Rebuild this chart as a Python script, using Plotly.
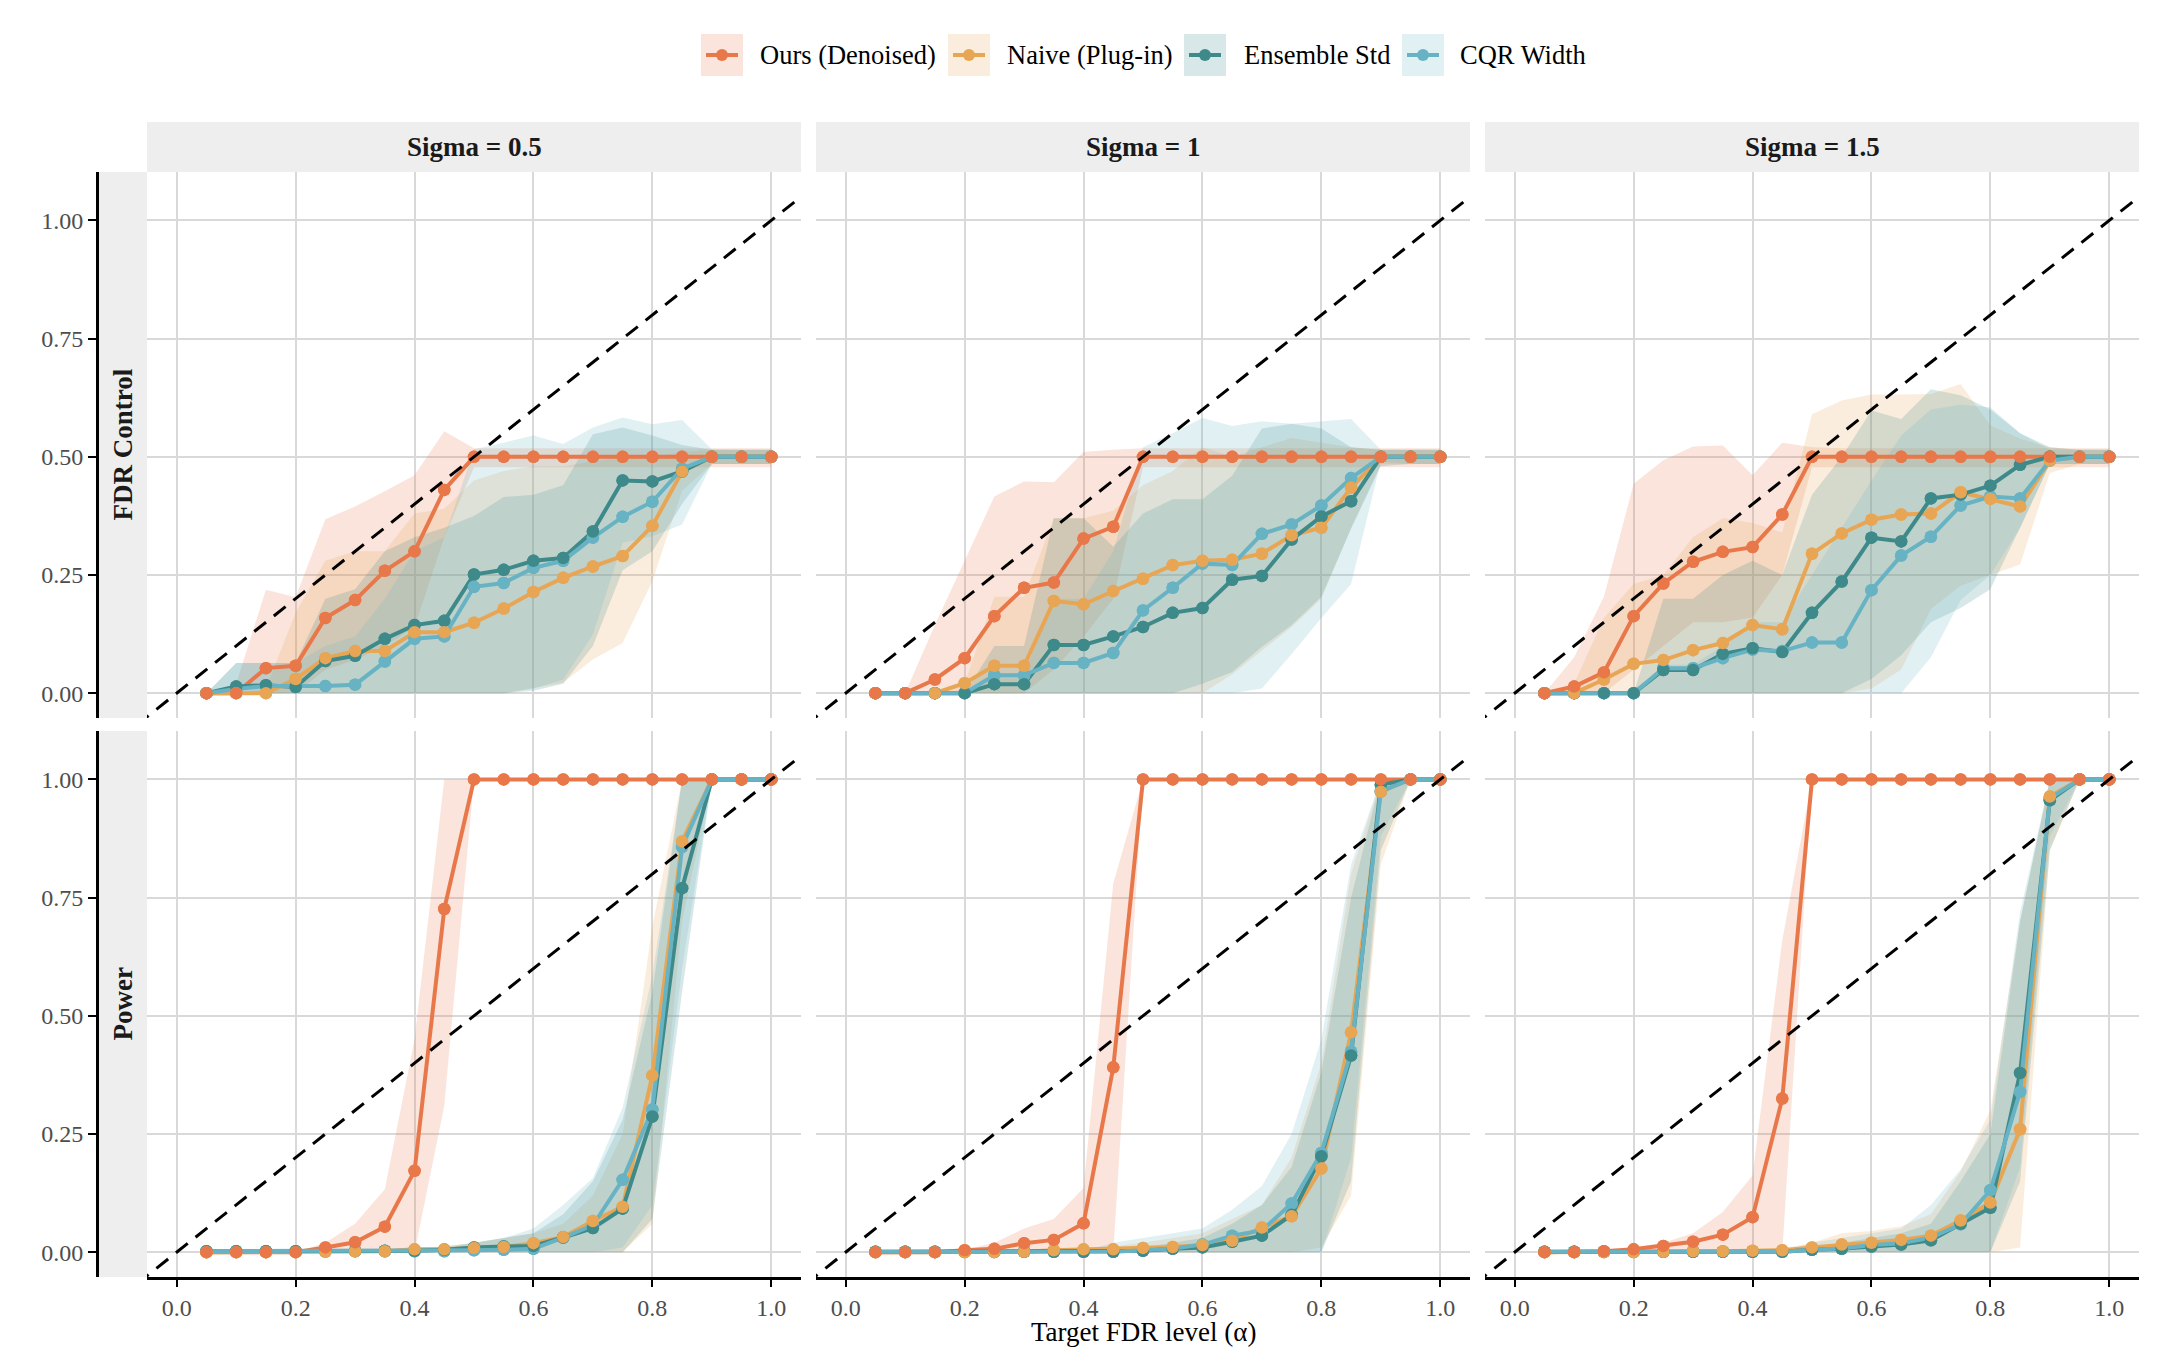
import plotly.graph_objects as go

# ---------------- data ----------------
ALPHA = [0.05, 0.10, 0.15, 0.20, 0.25, 0.30, 0.35, 0.40, 0.45, 0.50,
         0.55, 0.60, 0.65, 0.70, 0.75, 0.80, 0.85, 0.90, 0.95, 1.00]
METHODS = ["Ours (Denoised)", "Naive (Plug-in)", "Ensemble Std", "CQR Width"]
SIGMAS = ["Sigma = 0.5", "Sigma = 1", "Sigma = 1.5"]
METRICS = ["FDR Control", "Power"]
X_TICKS = [0.0, 0.2, 0.4, 0.6, 0.8, 1.0]
Y_TICKS = [0.0, 0.25, 0.5, 0.75, 1.0]

# --- FDR, sigma = 0.5 ---
FDR_S05_OURS = [0, 0, 0.053, 0.058, 0.159, 0.197, 0.259, 0.300, 0.430, 0.5, 0.5, 0.5, 0.5, 0.5, 0.5, 0.5, 0.5, 0.5, 0.5, 0.5]
FDR_S05_OURS_HI = [0, 0.02, 0.219, 0.203, 0.368, 0.395, 0.427, 0.461, 0.554, 0.518, 0.518, 0.518, 0.518, 0.518, 0.518, 0.518, 0.518, 0.518, 0.518, 0.518]
FDR_S05_OURS_LO = [0, 0, 0, 0, 0.05, 0.07, 0.10, 0.14, 0.33, 0.478, 0.478, 0.478, 0.478, 0.478, 0.478, 0.478, 0.478, 0.478, 0.478, 0.478]
FDR_S05_NAIVE = [0, 0, 0, 0.03, 0.074, 0.089, 0.089, 0.129, 0.129, 0.149, 0.179, 0.214, 0.244, 0.268, 0.290, 0.354, 0.469, 0.5, 0.5, 0.5]
FDR_S05_NAIVE_HI = [0, 0, 0.01, 0.17, 0.28, 0.30, 0.30, 0.38, 0.39, 0.45, 0.47, 0.48, 0.48, 0.49, 0.50, 0.50, 0.51, 0.515, 0.515, 0.515]
FDR_S05_NAIVE_LO = [0, 0, 0, 0, 0, 0, 0, 0, 0, 0, 0, 0.011, 0.022, 0.071, 0.106, 0.237, 0.428, 0.485, 0.485, 0.485]
FDR_S05_ENS = [0, 0.014, 0.017, 0.013, 0.068, 0.079, 0.115, 0.144, 0.153, 0.251, 0.261, 0.280, 0.286, 0.342, 0.450, 0.448, 0.469, 0.5, 0.5, 0.5]
FDR_S05_ENS_HI = [0, 0.064, 0.064, 0.064, 0.20, 0.22, 0.30, 0.33, 0.35, 0.375, 0.415, 0.42, 0.44, 0.548, 0.562, 0.545, 0.525, 0.515, 0.515, 0.515]
FDR_S05_ENS_LO = [0, 0, 0, 0, 0, 0, 0, 0, 0, 0, 0, 0.005, 0.02, 0.10, 0.26, 0.30, 0.40, 0.485, 0.485, 0.485]
FDR_S05_CQR = [0, 0.009, 0.015, 0.014, 0.015, 0.018, 0.067, 0.115, 0.12, 0.225, 0.233, 0.265, 0.28, 0.329, 0.373, 0.405, 0.475, 0.5, 0.5, 0.5]
FDR_S05_CQR_HI = [0, 0.064, 0.064, 0.064, 0.10, 0.12, 0.20, 0.30, 0.33, 0.516, 0.53, 0.545, 0.527, 0.562, 0.583, 0.569, 0.578, 0.516, 0.515, 0.515]
FDR_S05_CQR_LO = [0, 0, 0, 0, 0, 0, 0, 0, 0, 0, 0, 0.01, 0.029, 0.124, 0.318, 0.332, 0.357, 0.485, 0.485, 0.485]

# --- FDR, sigma = 1 ---
FDR_S10_OURS = [0, 0, 0.029, 0.074, 0.163, 0.223, 0.234, 0.327, 0.352, 0.5, 0.5, 0.5, 0.5, 0.5, 0.5, 0.5, 0.5, 0.5, 0.5, 0.5]
FDR_S10_OURS_HI = [0, 0, 0.144, 0.28, 0.416, 0.448, 0.446, 0.51, 0.515, 0.518, 0.518, 0.518, 0.518, 0.518, 0.518, 0.518, 0.518, 0.518, 0.518, 0.518]
FDR_S10_OURS_LO = [0, 0, 0, 0, 0, 0, 0.05, 0.12, 0.2, 0.478, 0.478, 0.478, 0.478, 0.478, 0.478, 0.478, 0.478, 0.478, 0.478, 0.478]
FDR_S10_NAIVE = [0, 0, 0, 0.021, 0.058, 0.058, 0.195, 0.188, 0.216, 0.242, 0.271, 0.280, 0.282, 0.295, 0.334, 0.350, 0.435, 0.5, 0.5, 0.5]
FDR_S10_NAIVE_HI = [0, 0, 0, 0.02, 0.204, 0.204, 0.37, 0.37, 0.386, 0.44, 0.47, 0.52, 0.50, 0.52, 0.54, 0.53, 0.52, 0.515, 0.515, 0.515]
FDR_S10_NAIVE_LO = [0, 0, 0, 0, 0, 0, 0, 0, 0, 0, 0, 0, 0.04, 0.09, 0.14, 0.2, 0.35, 0.485, 0.485, 0.485]
FDR_S10_ENS = [0, 0, 0, 0, 0.019, 0.019, 0.102, 0.102, 0.120, 0.140, 0.170, 0.180, 0.240, 0.248, 0.325, 0.374, 0.406, 0.5, 0.5, 0.5]
FDR_S10_ENS_HI = [0, 0, 0, 0, 0.10, 0.10, 0.37, 0.37, 0.31, 0.38, 0.41, 0.41, 0.46, 0.56, 0.57, 0.56, 0.52, 0.515, 0.515, 0.515]
FDR_S10_ENS_LO = [0, 0, 0, 0, 0, 0, 0, 0, 0, 0, 0, 0.02, 0.045, 0.098, 0.144, 0.204, 0.348, 0.48, 0.485, 0.485]
FDR_S10_CQR = [0, 0, 0, 0, 0.038, 0.038, 0.064, 0.064, 0.085, 0.175, 0.223, 0.274, 0.271, 0.337, 0.357, 0.397, 0.455, 0.5, 0.5, 0.5]
FDR_S10_CQR_HI = [0, 0, 0, 0, 0.04, 0.04, 0.2, 0.2, 0.3, 0.52, 0.55, 0.582, 0.565, 0.575, 0.57, 0.575, 0.58, 0.515, 0.515, 0.515]
FDR_S10_CQR_LO = [0, 0, 0, 0, 0, 0, 0, 0, 0, 0, 0, 0, 0, 0.01, 0.083, 0.159, 0.231, 0.49, 0.485, 0.485]

# --- FDR, sigma = 1.5 ---
FDR_S15_OURS = [0, 0.014, 0.044, 0.163, 0.232, 0.278, 0.299, 0.309, 0.378, 0.5, 0.5, 0.5, 0.5, 0.5, 0.5, 0.5, 0.5, 0.5, 0.5, 0.5]
FDR_S15_OURS_HI = [0, 0.076, 0.204, 0.443, 0.493, 0.522, 0.524, 0.461, 0.530, 0.52, 0.518, 0.518, 0.518, 0.518, 0.518, 0.518, 0.518, 0.518, 0.518, 0.518]
FDR_S15_OURS_LO = [0, 0, 0, 0.05, 0.1, 0.15, 0.15, 0.16, 0.25, 0.478, 0.478, 0.478, 0.478, 0.478, 0.478, 0.478, 0.478, 0.478, 0.478, 0.478]
FDR_S15_NAIVE = [0, 0, 0.029, 0.062, 0.070, 0.091, 0.106, 0.144, 0.135, 0.295, 0.338, 0.367, 0.378, 0.380, 0.425, 0.411, 0.395, 0.492, 0.5, 0.5]
FDR_S15_NAIVE_HI = [0, 0.02, 0.159, 0.231, 0.25, 0.33, 0.37, 0.36, 0.34, 0.59, 0.619, 0.632, 0.632, 0.633, 0.654, 0.567, 0.538, 0.52, 0.515, 0.515]
FDR_S15_NAIVE_LO = [0, 0, 0, 0, 0, 0, 0, 0, 0, 0, 0, 0.01, 0.05, 0.178, 0.227, 0.25, 0.272, 0.466, 0.485, 0.485]
FDR_S15_ENS = [0, 0, 0, 0, 0.049, 0.049, 0.083, 0.095, 0.087, 0.170, 0.236, 0.329, 0.321, 0.412, 0.42, 0.439, 0.483, 0.5, 0.5, 0.5]
FDR_S15_ENS_HI = [0, 0, 0, 0, 0.2, 0.2, 0.25, 0.28, 0.25, 0.42, 0.5, 0.598, 0.58, 0.643, 0.63, 0.60, 0.55, 0.52, 0.515, 0.515]
FDR_S15_ENS_LO = [0, 0, 0, 0, 0, 0, 0, 0, 0, 0, 0, 0.03, 0.08, 0.15, 0.18, 0.22, 0.35, 0.485, 0.485, 0.485]
FDR_S15_CQR = [0, 0, 0, 0, 0.053, 0.053, 0.074, 0.092, 0.089, 0.107, 0.107, 0.218, 0.291, 0.331, 0.397, 0.416, 0.412, 0.492, 0.5, 0.5]
FDR_S15_CQR_HI = [0, 0, 0, 0, 0.06, 0.06, 0.1, 0.15, 0.15, 0.25, 0.35, 0.45, 0.545, 0.60, 0.61, 0.605, 0.55, 0.515, 0.515, 0.515]
FDR_S15_CQR_LO = [0, 0, 0, 0, 0, 0, 0, 0, 0, 0, 0, 0, 0, 0.076, 0.197, 0.25, 0.35, 0.485, 0.485, 0.485]

# --- Power, sigma = 0.5 ---
POW_S05_OURS = [0, 0, 0, 0, 0.010, 0.021, 0.054, 0.172, 0.726, 1, 1, 1, 1, 1, 1, 1, 1, 1, 1, 1]
POW_S05_OURS_HI = [0, 0, 0, 0, 0.02, 0.06, 0.133, 0.45, 1, 1, 1, 1, 1, 1, 1, 1, 1, 1, 1, 1]
POW_S05_OURS_LO = [0, 0, 0, 0, 0, 0, 0, 0, 0.31, 1, 1, 1, 1, 1, 1, 1, 1, 1, 1, 1]
POW_S05_NAIVE = [0, 0, 0, 0, 0.001, 0.002, 0.002, 0.006, 0.006, 0.009, 0.011, 0.019, 0.032, 0.066, 0.096, 0.374, 0.869, 1, 1, 1]
POW_S05_NAIVE_HI = [0, 0, 0, 0, 0.002, 0.004, 0.005, 0.01, 0.012, 0.02, 0.03, 0.04, 0.06, 0.12, 0.25, 0.69, 1, 1, 1, 1]
POW_S05_NAIVE_LO = [0, 0, 0, 0, 0, 0, 0, 0, 0, 0, 0, 0, 0, 0, 0, 0.06, 0.7, 1, 1, 1]
POW_S05_ENS = [0.002, 0.002, 0.002, 0.002, 0.003, 0.003, 0.003, 0.003, 0.005, 0.010, 0.012, 0.013, 0.031, 0.051, 0.092, 0.287, 0.770, 1, 1, 1]
POW_S05_ENS_HI = [0.003, 0.003, 0.003, 0.003, 0.005, 0.005, 0.006, 0.008, 0.012, 0.02, 0.03, 0.04, 0.08, 0.15, 0.28, 0.55, 1, 1, 1, 1]
POW_S05_ENS_LO = [0, 0, 0, 0, 0, 0, 0, 0, 0, 0, 0, 0, 0, 0, 0, 0.07, 0.55, 1, 1, 1]
POW_S05_CQR = [0.002, 0.002, 0.002, 0.002, 0.002, 0.002, 0.002, 0.002, 0.002, 0.004, 0.005, 0.007, 0.031, 0.057, 0.153, 0.302, 0.857, 1, 1, 1]
POW_S05_CQR_HI = [0.003, 0.003, 0.003, 0.003, 0.003, 0.004, 0.005, 0.006, 0.008, 0.02, 0.03, 0.05, 0.1, 0.157, 0.306, 0.586, 1, 1, 1, 1]
POW_S05_CQR_LO = [0, 0, 0, 0, 0, 0, 0, 0, 0, 0, 0, 0, 0, 0, 0.01, 0.1, 0.6, 1, 1, 1]

# --- Power, sigma = 1 ---
POW_S10_OURS = [0, 0, 0, 0.004, 0.007, 0.019, 0.026, 0.061, 0.391, 1, 1, 1, 1, 1, 1, 1, 1, 1, 1, 1]
POW_S10_OURS_HI = [0, 0, 0, 0.005, 0.02, 0.05, 0.07, 0.136, 0.78, 1, 1, 1, 1, 1, 1, 1, 1, 1, 1, 1]
POW_S10_OURS_LO = [0, 0, 0, 0, 0, 0, 0, 0, 0, 1, 1, 1, 1, 1, 1, 1, 1, 1, 1, 1]
POW_S10_NAIVE = [0, 0, 0, 0, 0, 0.001, 0.004, 0.006, 0.006, 0.009, 0.011, 0.015, 0.024, 0.052, 0.076, 0.177, 0.465, 0.974, 1, 1]
POW_S10_NAIVE_HI = [0, 0, 0, 0, 0.001, 0.003, 0.007, 0.01, 0.012, 0.02, 0.03, 0.04, 0.07, 0.1, 0.2, 0.4, 0.8, 1, 1, 1]
POW_S10_NAIVE_LO = [0, 0, 0, 0, 0, 0, 0, 0, 0, 0, 0, 0, 0, 0, 0, 0.01, 0.12, 0.82, 1, 1]
POW_S10_ENS = [0.001, 0.001, 0.001, 0.001, 0.001, 0.001, 0.001, 0.001, 0.001, 0.003, 0.007, 0.010, 0.022, 0.035, 0.079, 0.203, 0.416, 0.989, 1, 1]
POW_S10_ENS_HI = [0.002, 0.002, 0.002, 0.002, 0.002, 0.002, 0.002, 0.002, 0.002, 0.01, 0.02, 0.03, 0.06, 0.1, 0.18, 0.38, 0.75, 1, 1, 1]
POW_S10_ENS_LO = [0, 0, 0, 0, 0, 0, 0, 0, 0, 0, 0, 0, 0, 0, 0, 0, 0.15, 0.85, 1, 1]
POW_S10_CQR = [0.001, 0.001, 0.001, 0.001, 0.001, 0.001, 0.001, 0.001, 0.001, 0.004, 0.008, 0.016, 0.035, 0.046, 0.103, 0.21, 0.424, 0.975, 1, 1]
POW_S10_CQR_HI = [0.002, 0.002, 0.002, 0.002, 0.002, 0.002, 0.002, 0.002, 0.02, 0.03, 0.04, 0.05, 0.09, 0.14, 0.25, 0.45, 0.82, 1, 1, 1]
POW_S10_CQR_LO = [0, 0, 0, 0, 0, 0, 0, 0, 0, 0, 0, 0, 0, 0, 0, 0, 0.2, 0.88, 1, 1]

# --- Power, sigma = 1.5 ---
POW_S15_OURS = [0, 0, 0.002, 0.006, 0.013, 0.022, 0.037, 0.074, 0.325, 1, 1, 1, 1, 1, 1, 1, 1, 1, 1, 1]
POW_S15_OURS_HI = [0, 0, 0.003, 0.01, 0.02, 0.04, 0.085, 0.162, 0.66, 1, 1, 1, 1, 1, 1, 1, 1, 1, 1, 1]
POW_S15_OURS_LO = [0, 0, 0, 0, 0, 0, 0, 0, 0, 1, 1, 1, 1, 1, 1, 1, 1, 1, 1, 1]
POW_S15_NAIVE = [0, 0, 0, 0, 0.001, 0.002, 0.002, 0.003, 0.004, 0.010, 0.016, 0.020, 0.026, 0.035, 0.067, 0.105, 0.26, 0.964, 1, 1]
POW_S15_NAIVE_HI = [0, 0, 0, 0, 0.002, 0.004, 0.005, 0.006, 0.008, 0.02, 0.04, 0.045, 0.055, 0.08, 0.17, 0.3, 0.7, 1, 1, 1]
POW_S15_NAIVE_LO = [0, 0, 0, 0, 0, 0, 0, 0, 0, 0, 0, 0, 0, 0, 0, 0, 0.01, 0.85, 1, 1]
POW_S15_ENS = [0.001, 0.001, 0.001, 0.001, 0.001, 0.001, 0.001, 0.001, 0.001, 0.005, 0.007, 0.012, 0.016, 0.025, 0.06, 0.094, 0.379, 0.956, 1, 1]
POW_S15_ENS_HI = [0.002, 0.002, 0.002, 0.002, 0.002, 0.002, 0.002, 0.002, 0.002, 0.01, 0.02, 0.03, 0.04, 0.06, 0.15, 0.25, 0.7, 1, 1, 1]
POW_S15_ENS_LO = [0, 0, 0, 0, 0, 0, 0, 0, 0, 0, 0, 0, 0, 0, 0, 0, 0.15, 0.85, 1, 1]
POW_S15_CQR = [0.001, 0.001, 0.001, 0.001, 0.001, 0.001, 0.001, 0.001, 0.001, 0.005, 0.008, 0.015, 0.019, 0.031, 0.059, 0.131, 0.339, 0.96, 1, 1]
POW_S15_CQR_HI = [0.002, 0.002, 0.002, 0.002, 0.002, 0.002, 0.002, 0.002, 0.002, 0.02, 0.03, 0.04, 0.05, 0.1, 0.175, 0.28, 0.72, 1, 1, 1]
POW_S15_CQR_LO = [0, 0, 0, 0, 0, 0, 0, 0, 0, 0, 0, 0, 0, 0, 0, 0, 0.18, 0.88, 1, 1]

# identity reference line (y = x)
REF_LINE = [-0.1, 1.2]

# ---------------- styling ----------------
W, H = 2176, 1366
FONT = "Liberation Serif"
LINE_COLORS = ["#E8784A", "#E8A654", "#3E8A8B", "#67B3C3"]
FILL_COLORS = ["rgba(232,120,74,0.2)", "rgba(232,166,84,0.2)",
               "rgba(62,138,139,0.2)", "rgba(103,179,195,0.2)"]
LINE_W = 4
MARK_SIZE = 12.5

PANELS = [
    [  # row 1: FDR
        [(FDR_S05_OURS, FDR_S05_OURS_LO, FDR_S05_OURS_HI), (FDR_S05_NAIVE, FDR_S05_NAIVE_LO, FDR_S05_NAIVE_HI),
         (FDR_S05_ENS, FDR_S05_ENS_LO, FDR_S05_ENS_HI), (FDR_S05_CQR, FDR_S05_CQR_LO, FDR_S05_CQR_HI)],
        [(FDR_S10_OURS, FDR_S10_OURS_LO, FDR_S10_OURS_HI), (FDR_S10_NAIVE, FDR_S10_NAIVE_LO, FDR_S10_NAIVE_HI),
         (FDR_S10_ENS, FDR_S10_ENS_LO, FDR_S10_ENS_HI), (FDR_S10_CQR, FDR_S10_CQR_LO, FDR_S10_CQR_HI)],
        [(FDR_S15_OURS, FDR_S15_OURS_LO, FDR_S15_OURS_HI), (FDR_S15_NAIVE, FDR_S15_NAIVE_LO, FDR_S15_NAIVE_HI),
         (FDR_S15_ENS, FDR_S15_ENS_LO, FDR_S15_ENS_HI), (FDR_S15_CQR, FDR_S15_CQR_LO, FDR_S15_CQR_HI)],
    ],
    [  # row 2: Power
        [(POW_S05_OURS, POW_S05_OURS_LO, POW_S05_OURS_HI), (POW_S05_NAIVE, POW_S05_NAIVE_LO, POW_S05_NAIVE_HI),
         (POW_S05_ENS, POW_S05_ENS_LO, POW_S05_ENS_HI), (POW_S05_CQR, POW_S05_CQR_LO, POW_S05_CQR_HI)],
        [(POW_S10_OURS, POW_S10_OURS_LO, POW_S10_OURS_HI), (POW_S10_NAIVE, POW_S10_NAIVE_LO, POW_S10_NAIVE_HI),
         (POW_S10_ENS, POW_S10_ENS_LO, POW_S10_ENS_HI), (POW_S10_CQR, POW_S10_CQR_LO, POW_S10_CQR_HI)],
        [(POW_S15_OURS, POW_S15_OURS_LO, POW_S15_OURS_HI), (POW_S15_NAIVE, POW_S15_NAIVE_LO, POW_S15_NAIVE_HI),
         (POW_S15_ENS, POW_S15_ENS_LO, POW_S15_ENS_HI), (POW_S15_CQR, POW_S15_CQR_LO, POW_S15_CQR_HI)],
    ],
]

# panel geometry in pixels
COL_X = [(147, 801), (816, 1470), (1485, 2139)]
ROW_Y = [(172, 718), (731, 1277)]
STRIP_TOP = 122
STRIP_LEFT = 98
AXIS_X = 97
# legend key boxes (left edge px) and label start px
LEG_KEY_X = [701, 948, 1184, 1402]
LEG_TEXT_X = [758, 1005, 1242, 1458]
LEG_Y = 55
LEG_BOX = 42


def px_x(p):
    return p / W


def px_y(p):
    return 1 - p / H


fig = go.Figure()
layout = {}

for r in range(2):
    for c in range(3):
        idx = r * 3 + c + 1
        xa = "x" if idx == 1 else f"x{idx}"
        ya = "y" if idx == 1 else f"y{idx}"
        series = PANELS[r][c]
        # ribbons
        for m, (mean, lo, hi) in enumerate(series):
            fig.add_trace(go.Scatter(
                x=ALPHA + ALPHA[::-1], y=hi + lo[::-1], fill="toself",
                fillcolor=FILL_COLORS[m], line=dict(width=0), mode="lines",
                hoverinfo="skip", showlegend=False, xaxis=xa, yaxis=ya))
        # lines
        for m, (mean, lo, hi) in enumerate(series):
            fig.add_trace(go.Scatter(
                x=ALPHA, y=mean, mode="lines+markers", name=METHODS[m],
                line=dict(color=LINE_COLORS[m], width=LINE_W),
                marker=dict(color=LINE_COLORS[m], size=MARK_SIZE),
                legendgroup=METHODS[m], showlegend=False,
                xaxis=xa, yaxis=ya))
        # points (reverse order so that 'Ours' sits on top)
        for m in range(3, -1, -1):
            mean = series[m][0]
            fig.add_trace(go.Scatter(
                x=ALPHA, y=mean, mode="markers", name=METHODS[m],
                marker=dict(color=LINE_COLORS[m], size=MARK_SIZE),
                legendgroup=METHODS[m], showlegend=False, hoverinfo="skip",
                xaxis=xa, yaxis=ya))
        # y = x reference
        fig.add_trace(go.Scatter(
            x=REF_LINE, y=REF_LINE, mode="lines",
            line=dict(color="black", width=3, dash="15px,10px"),
            hoverinfo="skip", showlegend=False, xaxis=xa, yaxis=ya))

        x0, x1 = COL_X[c]
        y0, y1 = ROW_Y[r]
        xkey = "xaxis" if idx == 1 else f"xaxis{idx}"
        ykey = "yaxis" if idx == 1 else f"yaxis{idx}"
        bottom = (r == 1)
        layout[xkey] = dict(
            domain=[px_x(x0), px_x(x1)], anchor=ya, range=[-0.05, 1.05],
            tickvals=X_TICKS, ticktext=[f"{v:.1f}" for v in X_TICKS],
            showgrid=True, gridcolor="#D9D9D9", gridwidth=1.6,
            zeroline=False, showticklabels=bottom,
            showline=bottom, linecolor="black", linewidth=2.8,
            ticks="outside" if bottom else "", ticklen=7, tickwidth=2.4,
            tickcolor="black",
            tickfont=dict(family=FONT, size=24, color="#4D4D4D"),
        )
        left = (c == 0)
        ydict = dict(
            domain=[px_y(y1), px_y(y0)], range=[-0.0525, 1.1025],
            tickvals=Y_TICKS, ticktext=[f"{v:.2f}" for v in Y_TICKS],
            showgrid=True, gridcolor="#D9D9D9", gridwidth=1.6,
            zeroline=False, showticklabels=left,
            showline=left, linecolor="black", linewidth=2.8,
            ticks="outside" if left else "", ticklen=8, tickwidth=2.4,
            tickcolor="black",
            tickfont=dict(family=FONT, size=24, color="#4D4D4D"),
        )
        if left:
            ydict.update(anchor="free", position=px_x(AXIS_X))
        else:
            ydict.update(anchor=xa)
        layout[ykey] = ydict

shapes = []
annotations = []
# column strips
for c, label in enumerate(SIGMAS):
    x0, x1 = COL_X[c]
    shapes.append(dict(type="rect", xref="paper", yref="paper",
                       x0=px_x(x0), x1=px_x(x1), y0=px_y(ROW_Y[0][0]), y1=px_y(STRIP_TOP),
                       fillcolor="#EEEEEE", line=dict(width=0), layer="below"))
    annotations.append(dict(xref="paper", yref="paper", x=px_x((x0 + x1) / 2),
                            y=px_y((STRIP_TOP + ROW_Y[0][0]) / 2), text=f"<b>{label}</b>",
                            showarrow=False, xanchor="center", yanchor="middle",
                            font=dict(family=FONT, size=27, color="#1A1A1A")))
# row strips
for r, label in enumerate(METRICS):
    y0, y1 = ROW_Y[r]
    shapes.append(dict(type="rect", xref="paper", yref="paper",
                       x0=px_x(STRIP_LEFT), x1=px_x(COL_X[0][0]), y0=px_y(y1), y1=px_y(y0),
                       fillcolor="#EEEEEE", line=dict(width=0), layer="below"))
    annotations.append(dict(xref="paper", yref="paper", x=px_x((STRIP_LEFT + COL_X[0][0]) / 2),
                            y=px_y((y0 + y1) / 2), text=f"<b>{label}</b>", textangle=-90,
                            showarrow=False, xanchor="center", yanchor="middle",
                            font=dict(family=FONT, size=27, color="#1A1A1A")))
# legend (keys: ribbon swatch + line + point, then label)
for m, name in enumerate(METHODS):
    kx = LEG_KEY_X[m]
    cx = kx + LEG_BOX / 2
    shapes.append(dict(type="rect", xref="paper", yref="paper",
                       x0=px_x(kx), x1=px_x(kx + LEG_BOX),
                       y0=px_y(LEG_Y + LEG_BOX / 2), y1=px_y(LEG_Y - LEG_BOX / 2),
                       fillcolor=FILL_COLORS[m], line=dict(width=0)))
    shapes.append(dict(type="line", xref="paper", yref="paper",
                       x0=px_x(kx + 5), x1=px_x(kx + LEG_BOX - 5),
                       y0=px_y(LEG_Y), y1=px_y(LEG_Y),
                       line=dict(color=LINE_COLORS[m], width=LINE_W)))
    shapes.append(dict(type="circle", xref="paper", yref="paper",
                       x0=px_x(cx - 6), x1=px_x(cx + 6),
                       y0=px_y(LEG_Y + 6), y1=px_y(LEG_Y - 6),
                       fillcolor=LINE_COLORS[m], line=dict(width=0)))
    annotations.append(dict(xref="paper", yref="paper", x=px_x(LEG_TEXT_X[m]),
                            y=px_y(LEG_Y), text=name, showarrow=False,
                            xanchor="left", yanchor="middle",
                            font=dict(family=FONT, size=26.5, color="black")))
# x-axis title
annotations.append(dict(xref="paper", yref="paper", x=px_x((COL_X[0][0] + COL_X[2][1]) / 2),
                        y=px_y(1332), text="Target FDR level (α)", showarrow=False,
                        xanchor="center", yanchor="middle",
                        font=dict(family=FONT, size=27, color="black")))

fig.update_layout(
    width=W, height=H,
    margin=dict(l=0, r=0, t=0, b=0),
    paper_bgcolor="white", plot_bgcolor="white",
    font=dict(family=FONT, size=24, color="black"),
    shapes=shapes, annotations=annotations,
    showlegend=False,
    **layout,
)

fig.write_html("out.html")
